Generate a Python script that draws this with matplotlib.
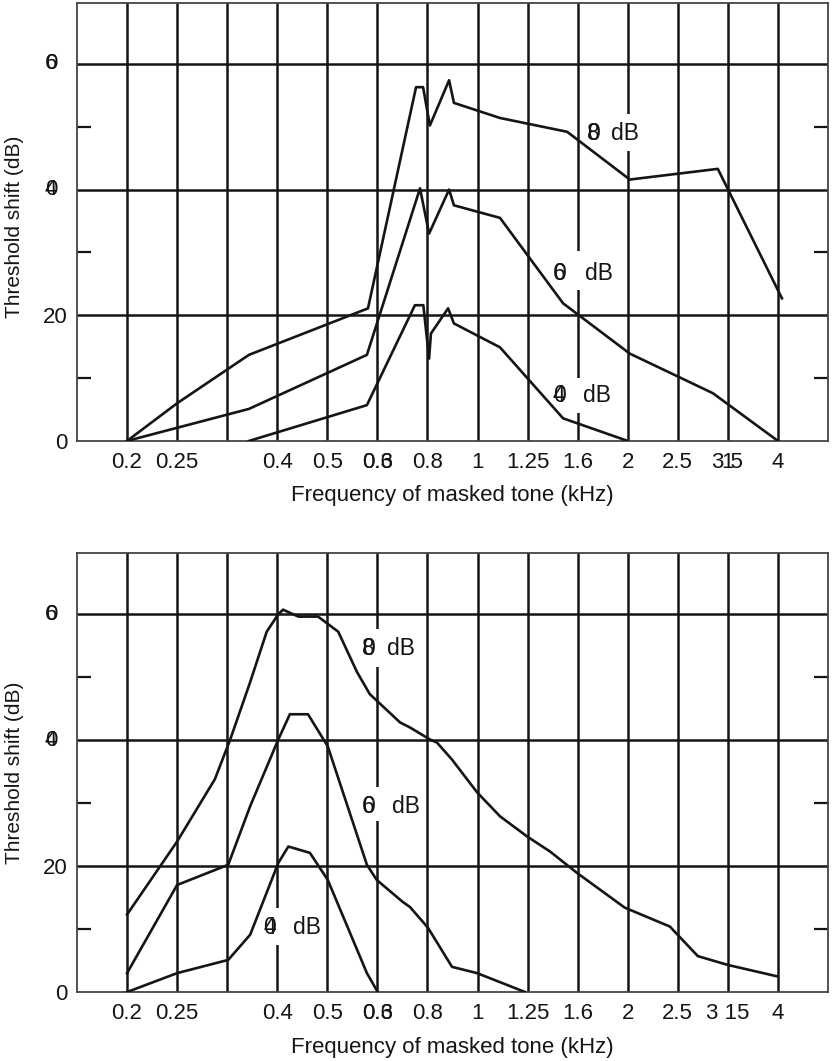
import matplotlib
matplotlib.use("Agg")
import matplotlib.pyplot as plt
import matplotlib.transforms as mtransforms
import numpy as np

plt.rcParams['font.family'] = ['Liberation Sans', 'DejaVu Sans']
plt.rcParams['font.size'] = 16

# third-octave band centres (kHz) used for the vertical grid
bands = 0.2 * 2 ** (np.arange(14) / 3)
top_ticks = ['0.2', '0.25', '', '0.4', '0.5', '0.6', '0.8', '1', '1.25', '1.6', '2', '2.5', '3 5', '4']
bottom_ticks = ['0.2', '0.25', '', '0.4', '0.5', '0.6', '0.8', '1', '1.25', '1.6', '2', '2.5', '3 15', '4']

# upper panel: masker near 0.8 kHz
top_hi_f = [0.2, 0.252, 0.351, 0.608, 0.759, 0.784, 0.809, 0.884, 0.904, 1.118, 1.524, 2.035, 3.055, 4.107]
top_hi_db = [0, 6.0, 13.7, 21.1, 56.3, 56.3, 50.2, 57.4, 53.8, 51.4, 49.2, 41.6, 43.3, 22.7]
top_mid_f = [0.2, 0.351, 0.605, 0.773, 0.806, 0.884, 0.904, 1.118, 1.496, 2.035, 2.986, 4.032]
top_mid_db = [0, 5.1, 13.7, 40.2, 33.0, 40.0, 37.5, 35.5, 21.9, 13.9, 7.6, 0]
top_lo_f = [0.351, 0.605, 0.755, 0.785, 0.806, 0.813, 0.880, 0.904, 1.118, 1.496, 2.016]
top_lo_db = [0, 5.7, 21.6, 21.6, 13.1, 17.1, 21.1, 18.7, 14.9, 3.6, 0]

# lower panel: masker near 0.4 kHz
bot_hi_f = [0.2, 0.252, 0.300, 0.322, 0.353, 0.381, 0.402, 0.411, 0.441, 0.483, 0.530, 0.578, 0.613,
            0.705, 0.738, 0.809, 0.836, 0.896, 1.006, 1.118, 1.267, 1.409, 1.596, 1.988, 2.448, 2.786, 3.2, 4.013]
bot_hi_db = [12.3, 23.9, 33.8, 40.1, 49.2, 57.2, 60.0, 60.7, 59.6, 59.6, 57.2, 50.8, 47.3,
             42.8, 42.0, 40.1, 39.6, 36.9, 31.7, 27.9, 24.7, 22.3, 18.9, 13.4, 10.4, 5.7, 4.3, 2.5]
bot_mid_f = [0.2, 0.252, 0.319, 0.353, 0.402, 0.424, 0.461, 0.505, 0.605, 0.633, 0.714, 0.738, 0.802, 0.896, 1.006, 1.255]
bot_mid_db = [3.0, 17.0, 20.2, 29.5, 40.1, 44.1, 44.1, 39.0, 20.2, 17.8, 14.3, 13.5, 10.2, 4.0, 3.0, 0]
bot_lo_f = [0.2, 0.252, 0.319, 0.353, 0.402, 0.421, 0.465, 0.505, 0.605, 0.636]
bot_lo_db = [0, 3.0, 5.1, 9.1, 20.5, 23.1, 22.1, 17.8, 3.0, 0]

# curve labels: digit x, "dB" x, level, digit
top_labels = [(1.670, 1.864, 49.0, '8'), (1.427, 1.654, 26.7, '6'), (1.427, 1.639, 7.3, '4')]
bot_labels = [(0.591, 0.663, 54.5, '8'), (0.591, 0.679, 29.5, '6'), (0.375, 0.430, 10.2, '4')]

# breaks in the vertical grid behind the labels: band index, from, to
top_gaps = [(10, 46.2, 52.1), (9, 24.0, 30.3), (9, 4.4, 10.0)]
bot_gaps = [(5, 51.6, 57.6), (5, 27.1, 32.6), (3, 7.5, 13.4)]

ink = '#151515'


def panel(ax, curves, labels, gaps, ticks, split_315, xlab_y, ylab_y):
    ax.set_xscale('log')
    ax.set_xlim(0.2 * 2 ** (-1 / 3), 0.2 * 2 ** (14 / 3))
    ax.set_ylim(0, 69.7)

    for f in bands:
        ax.axvline(f, color=ink, lw=1.8, zorder=1)
    for v in [20, 40, 60]:
        ax.axhline(v, color=ink, lw=1.8, zorder=1)
    for i, y0, y1 in gaps:
        ax.plot([bands[i], bands[i]], [y0, y1], color='white', lw=4, zorder=1.5,
                solid_capstyle='butt')

    for f, db in curves:
        ax.plot(f, db, color=ink, lw=1.9, zorder=3)

    for xd, xb, y, d in labels:
        ax.text(xd, y, '0', ha='left', va='center', color=ink, fontsize=16.5, zorder=4)
        ax.text(xd, y, d, ha='left', va='center', color=ink, fontsize=16.5, zorder=4)
        ax.text(xb, y, 'dB', ha='left', va='center', color=ink, fontsize=16.5, zorder=4)

    ax.set_xticks(bands)
    ax.set_xticklabels(ticks)
    ax.xaxis.set_minor_locator(matplotlib.ticker.NullLocator())
    ax.tick_params(axis='x', length=0, pad=8, colors=ink)
    # overprinted characters in the tick row
    tr = mtransforms.blended_transform_factory(ax.transData, ax.transAxes)
    shift = mtransforms.ScaledTranslation(0, -8 / 72, ax.figure.dpi_scale_trans)
    ax.text(bands[5], 0, '0.3', ha='center', va='top', color=ink, transform=tr + shift)
    if split_315:
        ax.text(bands[12], 0, '1', ha='center', va='top', color=ink, transform=tr + shift)

    ax.set_yticks([0, 20, 40, 60])
    ax.set_yticklabels(['0', '20', '', ''])
    ax.set_yticks([10, 30, 50], minor=True)
    ax.tick_params(axis='y', which='major', length=0, pad=7, colors=ink)
    ax.tick_params(axis='y', which='minor', direction='in', length=10, width=1.6,
                   left=True, right=True, color=ink)
    ty = mtransforms.blended_transform_factory(ax.transAxes, ax.transData)
    for v, d in [(40, '4'), (60, '6')]:
        ax.text(-0.0426, v, '0', transform=ty, ha='left', va='center', color=ink)
        ax.text(-0.0426, v, d, transform=ty, ha='left', va='center', color=ink)

    for s in ax.spines.values():
        s.set_color('#444444')
        s.set_linewidth(1.3)

    ax.set_xlabel('Frequency of masked tone (kHz)', color=ink)
    ax.xaxis.set_label_coords(0.5, xlab_y)
    ax.set_ylabel('Threshold shift (dB)', color=ink, fontsize=15)
    ax.yaxis.set_label_coords(-0.0706, ylab_y)


fig = plt.figure(figsize=(8.33, 10.61), dpi=100)
ax1 = fig.add_axes([0.0924, 0.5844, 0.9016, 0.4128])
ax2 = fig.add_axes([0.0924, 0.0650, 0.9016, 0.4138])

panel(ax1, [(top_hi_f, top_hi_db), (top_mid_f, top_mid_db), (top_lo_f, top_lo_db)],
      top_labels, top_gaps, top_ticks, True, -0.100, 0.49)
panel(ax2, [(bot_hi_f, bot_hi_db), (bot_mid_f, bot_mid_db), (bot_lo_f, bot_lo_db)],
      bot_labels, bot_gaps, bottom_ticks, False, -0.1025, 0.50)

fig.savefig('out.png', dpi=100)
